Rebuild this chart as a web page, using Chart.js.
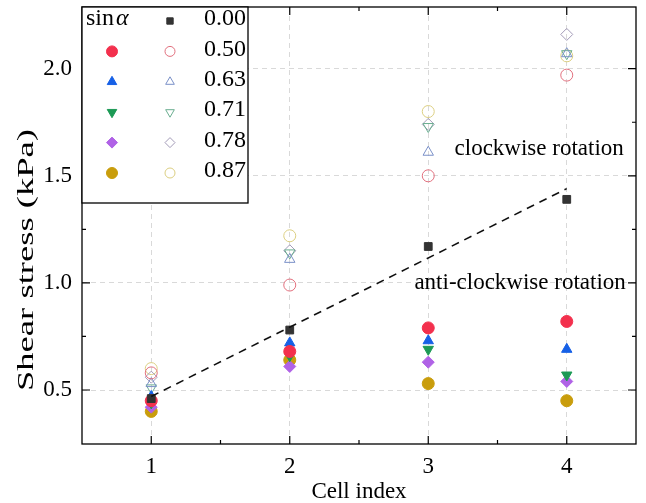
<!DOCTYPE html>
<html>
<head>
<meta charset="utf-8">
<script src="https://cdn.jsdelivr.net/npm/chart.js@4.4.1/dist/chart.umd.min.js"></script>
<style>
  html, body { margin: 0; padding: 0; background: #fff; }
  #wrap { width: 646px; height: 503px; }
</style>
</head>
<body>
<div id="wrap"><canvas id="chart" width="646" height="503"></canvas></div>
<script>
// 剪應力資料（每個 cell 一個值）
const cells = [1, 2, 3, 4];
const sinLabels = ['0.00', '0.50', '0.63', '0.71', '0.78', '0.87'];

const stress000 = [0.46, 0.78, 1.17, 1.39];

// 逆時針旋轉（實心）
const anti050 = [0.45, 0.68, 0.79, 0.82];
const anti063 = [0.47, 0.72, 0.73, 0.69];
const anti071 = [0.44, 0.66, 0.69, 0.57];
const anti078 = [0.42, 0.61, 0.63, 0.54];
const anti087 = [0.40, 0.64, 0.53, 0.45];

// 順時針旋轉（空心）
const cw050 = [0.58, 0.99, 1.50, 1.97];
const cw063 = [0.53, 1.11, 1.61, 2.07];
const cw071 = [0.51, 1.14, 1.73, 2.07];
const cw078 = [0.56, 1.15, 1.74, 2.16];
const cw087 = [0.60, 1.22, 1.80, 2.06];

// 0.00 的線性趨勢線端點
const fitX = [1, 4];
const fitY = [0.47, 1.44];

const yTicks = [0.5, 1.0, 1.5, 2.0];
const yMinor = [0.75, 1.25, 1.75];
const xMinor = [1.5, 2.5, 3.5];

const FONT = '"Liberation Serif", "Times New Roman", serif';

const toPts = arr => arr.map((v, i) => ({ x: cells[i], y: v }));

const filledStyle = [
    { style: 'circle', rot: 0, color: '#f3304d' },
    { style: 'triangle', rot: 0, color: '#1660e6' },
    { style: 'triangle', rot: 180, color: '#1c9a55' },
    { style: 'rectRot', rot: 0, color: '#b062e6' },
    { style: 'circle', rot: 0, color: '#c99d0c' }
];
const hollowStyle = [
    { style: 'circle', rot: 0, color: '#e2707e' },
    { style: 'triangle', rot: 0, color: '#7a90c8' },
    { style: 'triangle', rot: 180, color: '#6aae90' },
    { style: 'rectRot', rot: 0, color: '#a39bb8' },
    { style: 'circle', rot: 0, color: '#dccf82' }
];

const antiSeries = [anti050, anti063, anti071, anti078, anti087];
const cwSeries = [cw050, cw063, cw071, cw078, cw087];

const datasets = [];
datasets.push({
    type: 'line',
    label: 'fit',
    data: fitX.map((x, i) => ({ x, y: fitY[i] })),
    borderColor: '#111',
    borderWidth: 1.6,
    borderDash: [8, 6],
    pointRadius: 0,
    fill: false
});
datasets.push({
    label: '0.00',
    data: toPts(stress000),
    pointStyle: 'rect',
    pointRadius: 5.5,
    backgroundColor: '#333',
    borderColor: '#333',
    borderWidth: 1
});
antiSeries.forEach((arr, i) => {
    const s = filledStyle[i];
    datasets.push({
        label: 'anti ' + sinLabels[i + 1],
        data: toPts(arr),
        pointStyle: s.style,
        rotation: s.rot,
        pointRadius: 6,
        backgroundColor: s.color,
        borderColor: s.color,
        borderWidth: 1
    });
});
cwSeries.forEach((arr, i) => {
    const s = hollowStyle[i];
    datasets.push({
        label: 'cw ' + sinLabels[i + 1],
        data: toPts(arr),
        pointStyle: s.style,
        rotation: s.rot,
        pointRadius: 6,
        backgroundColor: 'rgba(255,255,255,0)',
        borderColor: s.color,
        borderWidth: 1
    });
});

// 邊框、內向刻度、圖例與文字
const decor = {
    id: 'decor',
    afterDatasetsDraw(chart) {
        const { ctx, chartArea: a, scales: { x, y } } = chart;
        ctx.save();
        ctx.strokeStyle = '#000';
        ctx.lineWidth = 1.3;
        ctx.strokeRect(a.left, a.top, a.right - a.left, a.bottom - a.top);

        ctx.lineWidth = 1.2;
        const tick = (px, len, vert) => {
            ctx.beginPath();
            if (vert) {
                ctx.moveTo(px, a.bottom); ctx.lineTo(px, a.bottom - len);
                ctx.moveTo(px, a.top); ctx.lineTo(px, a.top + len);
            } else {
                ctx.moveTo(a.left, px); ctx.lineTo(a.left + len, px);
                ctx.moveTo(a.right, px); ctx.lineTo(a.right - len, px);
            }
            ctx.stroke();
        };
        cells.forEach(v => tick(x.getPixelForValue(v), 8, true));
        xMinor.forEach(v => tick(x.getPixelForValue(v), 4, true));
        yTicks.forEach(v => tick(y.getPixelForValue(v), 8, false));
        yMinor.forEach(v => tick(y.getPixelForValue(v), 4, false));

        // 旋轉方向說明
        ctx.fillStyle = '#000';
        ctx.font = '23px ' + FONT;
        ctx.textBaseline = 'middle';
        ctx.textAlign = 'left';
        ctx.fillText('clockwise rotation', x.getPixelForValue(3.19), y.getPixelForValue(1.625));
        ctx.fillText('anti-clockwise rotation', x.getPixelForValue(2.9), y.getPixelForValue(1.0));

        // y 軸標題（沿文字方向拉長）
        const title = 'Shear stress (kPa)';
        const tw = ctx.measureText(title).width;
        ctx.save();
        ctx.translate(27, 260);
        ctx.rotate(-Math.PI / 2);
        ctx.scale(262 / tw, 1);
        ctx.textAlign = 'center';
        ctx.fillText(title, 0, 0);
        ctx.restore();

        // 圖例
        const lx = a.left, ly = a.top, lw = 166, lh = 196;
        ctx.fillStyle = '#fff';
        ctx.fillRect(lx, ly, lw, lh);
        ctx.strokeStyle = '#000';
        ctx.lineWidth = 1.3;
        ctx.strokeRect(lx, ly, lw, lh);

        const rowY = i => ly + 12 + i * 30.4;
        ctx.fillStyle = '#000';
        ctx.font = '24px ' + FONT;
        ctx.textAlign = 'left';
        ctx.fillText('sin', lx + 4, rowY(0));
        const sw = ctx.measureText('sin').width;
        ctx.font = 'italic 24px ' + FONT;
        ctx.fillText('α', lx + 4 + sw + 2, rowY(0));

        ctx.font = '24px ' + FONT;
        ctx.textAlign = 'right';
        sinLabels.forEach((t, i) => ctx.fillText(t, lx + lw - 2, rowY(i)));

        const draw = (style, rot, fill, stroke, px, py, r) => {
            ctx.fillStyle = fill;
            ctx.strokeStyle = stroke;
            ctx.lineWidth = 1;
            Chart.helpers.drawPoint(ctx, { pointStyle: style, rotation: rot, radius: r, borderWidth: 1 }, px, py);
        };
        const my = i => rowY(i) + 2;
        draw('rect', 0, '#333', '#333', lx + 88, my(0), 4.5);
        filledStyle.forEach((s, i) => draw(s.style, s.rot, s.color, s.color, lx + 30, my(i + 1), 5.5));
        hollowStyle.forEach((s, i) => draw(s.style, s.rot, 'rgba(255,255,255,0)', s.color, lx + 88, my(i + 1), 5));
        ctx.restore();
    }
};

new Chart(document.getElementById('chart'), {
    type: 'scatter',
    data: { datasets },
    options: {
        responsive: false,
        animation: false,
        layout: { padding: { top: 2, right: 10, left: 0, bottom: 0 } },
        plugins: { legend: { display: false }, tooltip: { enabled: false } },
        scales: {
            x: {
                type: 'linear',
                min: 0.5,
                max: 4.5,
                afterBuildTicks: s => { s.ticks = cells.map(v => ({ value: v })); },
                afterFit: s => { s.height = 59; s.paddingLeft = 0; s.paddingRight = 0; },
                grid: { color: '#d9d9d9', drawTicks: false },
                border: { display: false, dash: [5, 4] },
                ticks: { color: '#000', padding: 9, font: { family: FONT, size: 23 } },
                title: { display: true, text: 'Cell index', color: '#000', padding: { top: 0, bottom: -3 }, font: { family: FONT, size: 23 } }
            },
            y: {
                type: 'linear',
                min: 0.248,
                max: 2.288,
                afterBuildTicks: s => { s.ticks = yTicks.map(v => ({ value: v })); },
                afterFit: s => { s.width = 82; s.paddingTop = 0; s.paddingBottom = 0; },
                grid: { color: '#d9d9d9', drawTicks: false },
                border: { display: false, dash: [5, 4] },
                ticks: { color: '#000', padding: 10, font: { family: FONT, size: 23 }, callback: v => Number(v).toFixed(1) }
            }
        }
    },
    plugins: [decor]
});
</script>
</body>
</html>
